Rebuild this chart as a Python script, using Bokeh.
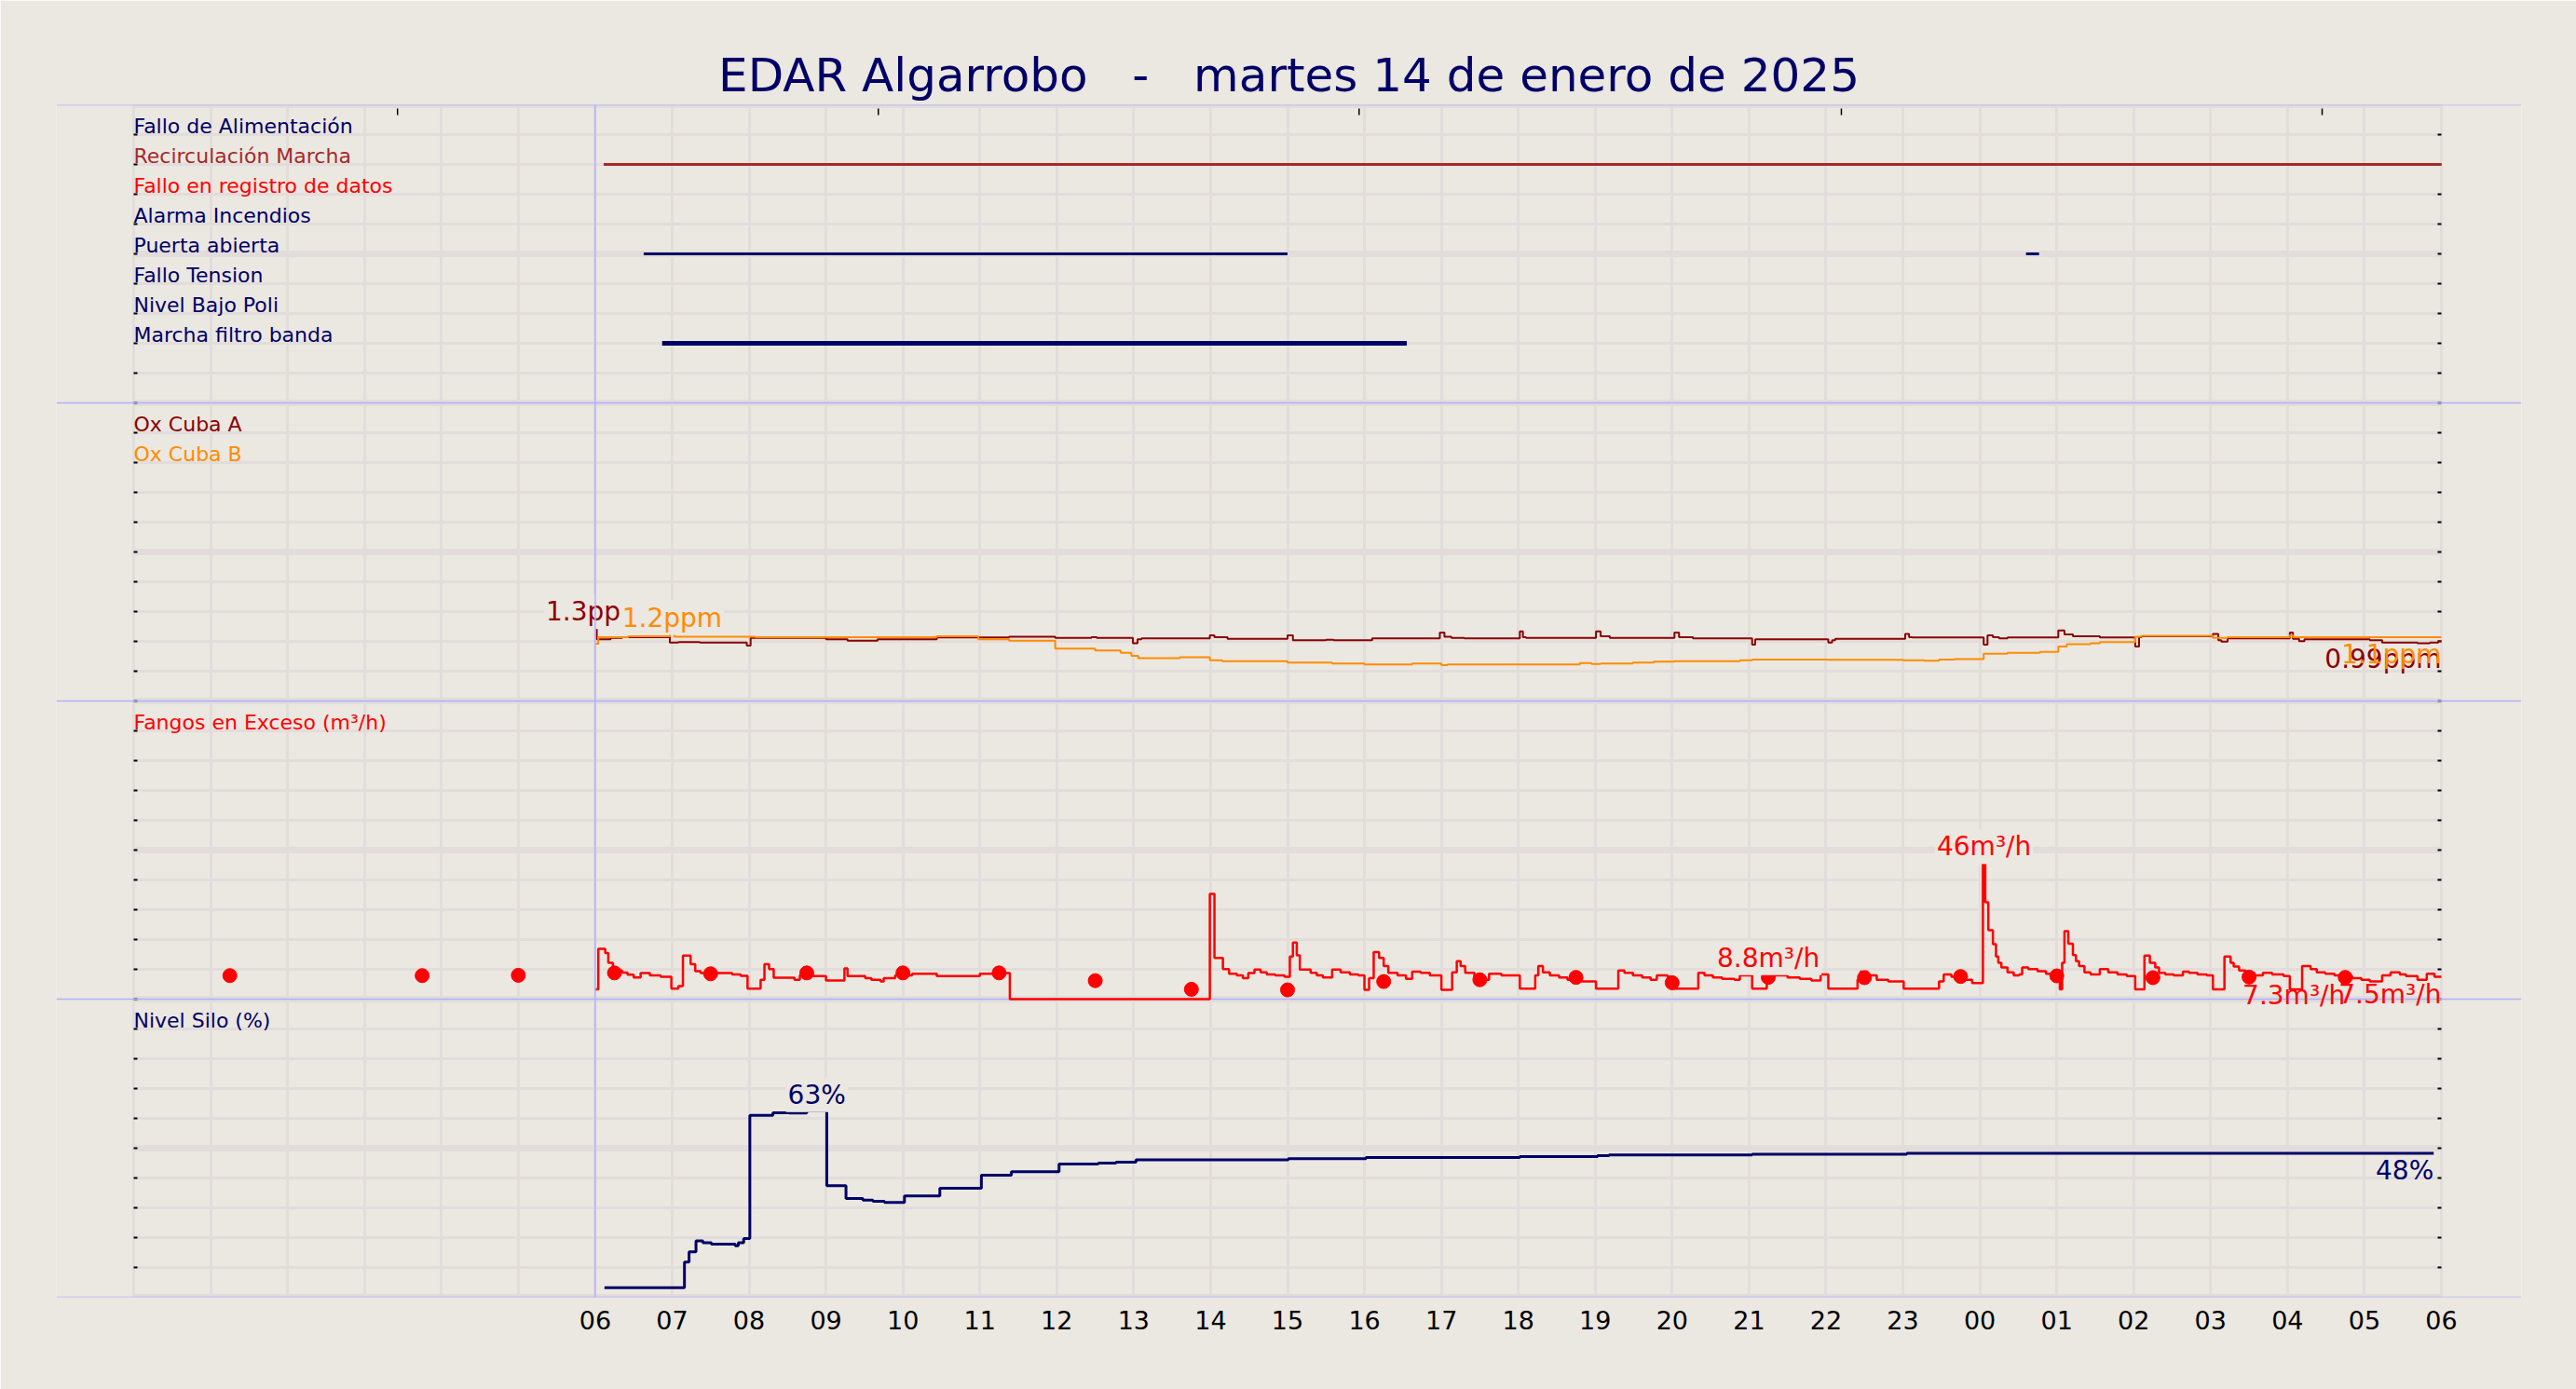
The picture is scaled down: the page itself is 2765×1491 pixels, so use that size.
import numpy as np
from bokeh.plotting import figure
from bokeh.models import Range1d, FixedTicker, Span
from bokeh.core.properties import value
from bokeh.embed import file_html
from bokeh.resources import INLINE

# ---------------- data ----------------
TITLE = "EDAR Algarrobo\u00a0\u00a0\u00a0-\u00a0\u00a0\u00a0martes 14 de enero de 2025"

# hours counted from 00:00 of 14/01 (30 = 06:00 of 15/01)
TICK_HOURS = list(range(6, 31))
TICK_LABELS = ["%02d" % (h % 24) for h in TICK_HOURS]
TOP_TICK_HOURS = [3.43, 9.68, 15.93, 22.2, 28.45]

SIGNAL_NAMES = ["Fallo de Alimentación", "Recirculación Marcha", "Fallo en registro de datos",
                "Alarma Incendios", "Puerta abierta", "Fallo Tension", "Nivel Bajo Poli",
                "Marcha filtro banda"]
# active periods of the digital signals
SIGNAL_ON_INDEX = [1, 4, 4, 7]
SIGNAL_ON_START = [6.11, 6.63, 24.60, 6.87]
SIGNAL_ON_END = [30.0, 15.0, 24.77, 16.55]

OX_A_H = [6.00, 6.02, 6.20, 6.35, 6.97, 7.08, 7.36, 7.97, 8.02, 9.00, 9.28, 9.67, 10.44, 11.38,
          11.98, 12.45, 12.52, 12.99, 13.05, 13.10, 13.99, 14.05, 14.22, 15.00, 15.07, 15.50,
          15.60, 16.10, 16.98, 17.04, 17.13, 17.30, 18.02, 18.06, 18.10, 19.01, 19.07, 19.19,
          20.03, 20.09, 20.27, 21.04, 21.08, 22.03, 22.08, 22.12, 23.03, 23.08, 23.12, 24.05,
          24.10, 24.17, 24.25, 24.36, 25.02, 25.10, 25.21, 25.56, 26.02, 26.07, 26.10, 27.03,
          27.10, 27.14, 27.22, 28.03, 28.07, 28.15, 28.22, 29.07, 29.23, 29.38, 29.69, 29.85,
          29.96, 30.00]
OX_A_V = [1.29, 1.03, 1.06, 1.08, 0.96, 0.97, 0.96, 0.89, 1.06, 1.03, 1.00, 1.03, 1.07, 1.09,
          1.06, 1.08, 1.06, 0.94, 1.03, 1.05, 1.12, 1.08, 1.04, 1.12, 1.01, 1.02,
          1.01, 1.05, 1.18, 1.09, 1.06, 1.05, 1.21, 1.08, 1.06, 1.21, 1.10, 1.06,
          1.18, 1.08, 1.05, 0.91, 1.03, 0.96, 1.01, 1.04, 1.15, 1.08, 1.07, 0.91,
          1.12, 1.08, 1.05, 1.07, 1.23, 1.14, 1.10, 1.07, 0.87, 1.08, 1.10, 1.15,
          1.01, 0.98, 1.05, 1.18, 1.04, 0.99, 1.03, 1.01, 0.96, 0.96, 0.94, 0.96,
          0.99, 0.99]

OX_B_H = [6.00, 6.04, 6.43, 6.97, 7.03, 8.08, 10.44, 10.98, 11.38, 11.98, 12.50, 12.83, 12.97,
          13.06, 13.60, 13.99, 14.15, 15.00, 15.58, 16.00, 16.62, 17.00, 17.08, 18.80, 18.95,
          19.07, 19.49, 19.76, 20.03, 20.88, 21.04, 22.03, 23.00, 23.28, 23.47, 23.67, 24.05,
          24.36, 24.78, 25.02, 25.13, 25.44, 25.56, 26.02, 26.10, 27.03, 27.22, 28.03, 28.07,
          30.00]
OX_B_V = [0.93, 1.08, 1.10, 1.16, 1.09, 1.08, 1.10, 1.03, 1.00, 0.82, 0.78, 0.73, 0.66,
          0.61, 0.63, 0.56, 0.54, 0.51, 0.49, 0.47, 0.49, 0.45, 0.47, 0.50, 0.48,
          0.49, 0.51, 0.53, 0.54, 0.56, 0.58, 0.57, 0.56, 0.55, 0.58, 0.59, 0.71,
          0.73, 0.75, 0.87, 0.92, 0.94, 0.97, 1.09, 1.11, 1.06, 1.08, 1.12, 1.08,
          1.08]

FANGOS_H = [6.00, 6.04, 6.13, 6.17, 6.23, 6.35, 6.42, 6.50, 6.59, 6.71, 6.85, 6.99, 7.08, 7.14,
            7.24, 7.30, 7.37, 7.78, 7.89, 7.98, 8.15, 8.20, 8.26, 8.32, 8.59, 8.66, 8.78, 9.00,
            9.24, 9.28, 9.51, 9.59, 9.71, 9.75, 9.90, 10.12, 10.44, 11.00, 11.29, 11.39, 13.99,
            14.05, 14.16, 14.24, 14.34, 14.42, 14.49, 14.57, 14.65, 14.73, 14.84, 14.96, 15.03,
            15.07, 15.12, 15.16, 15.30, 15.38, 15.46, 15.58, 15.69, 15.81, 15.92, 16.00, 16.06,
            16.12, 16.19, 16.25, 16.31, 16.43, 16.54, 16.62, 16.73, 16.85, 17.00, 17.14, 17.20,
            17.25, 17.31, 17.43, 17.54, 17.62, 17.78, 18.02, 18.22, 18.26, 18.32, 18.41, 18.53,
            18.64, 18.80, 19.01, 19.30, 19.38, 19.49, 19.61, 19.72, 19.80, 19.94, 20.02, 20.34,
            20.42, 20.53, 20.65, 20.81, 20.88, 21.04, 21.23, 21.50, 21.66, 21.81, 21.93, 22.03,
            22.41, 22.45, 22.54, 22.66, 22.81, 23.01, 23.47, 23.53, 23.63, 23.74, 23.90, 24.04,
            24.07, 24.11, 24.17, 24.21, 24.24, 24.28, 24.36, 24.44, 24.51, 24.55, 24.63, 24.75,
            24.86, 24.98, 25.04, 25.07, 25.10, 25.15, 25.21, 25.25, 25.29, 25.36, 25.44, 25.56,
            25.67, 25.79, 25.91, 26.02, 26.14, 26.21, 26.28, 26.33, 26.41, 26.52, 26.64, 26.72,
            26.83, 26.95, 27.03, 27.18, 27.26, 27.30, 27.37, 27.45, 27.57, 27.68, 27.80, 27.95,
            28.03, 28.19, 28.30, 28.38, 28.49, 28.61, 28.73, 28.84, 28.96, 29.07, 29.23, 29.34,
            29.46, 29.54, 29.69, 29.81, 29.91, 30.00]
FANGOS_V = [3.3, 16.9, 15.5, 12.2, 9.6, 8.9, 8.2, 7.3, 8.75, 8.0, 7.5, 3.5, 4.4, 14.6,
            11.7, 9.4, 8.75, 8.3, 7.8, 3.5, 6.5, 11.7, 10.1, 7.2, 6.5, 8.0, 7.7, 6.25,
            10.3, 7.7, 7.0, 6.5, 5.9, 7.0, 8.0, 8.5, 7.7, 8.5, 8.75, 0.0, 35.3,
            13.8, 10.1, 8.5, 8.0, 7.0, 8.75, 9.9, 9.0, 8.3, 8.0, 7.5, 14.3,
            19.0, 14.7, 9.9, 8.85, 8.0, 7.3, 9.9, 9.0, 8.3, 8.0, 3.1, 7.0,
            15.8, 13.8, 11.1, 8.85, 8.0, 6.8, 9.25, 8.85, 8.0, 3.1, 9.0, 12.7,
            11.1, 8.85, 7.5, 6.5, 8.5, 8.0, 3.5, 8.0, 11.1, 9.0, 8.0, 7.3,
            6.5, 5.9, 3.5, 9.6, 8.85, 8.0, 7.3, 6.5, 8.0, 7.5, 3.5, 8.85,
            8.0, 7.3, 6.8, 6.5, 8.0, 3.5, 8.0, 7.3, 6.8, 6.25, 8.3, 3.5,
            6.5, 9.25, 8.0, 6.5, 5.9, 3.5, 5.9, 8.3, 7.5, 6.5, 5.4, 45.8,
            32.5, 23.1, 18.4, 14.3, 12.2, 10.6, 9.0, 8.0, 8.3, 10.6, 10.1, 9.4,
            8.5, 8.0, 3.3, 12.2, 22.8, 18.6, 14.8, 12.7, 11.1, 9.0, 8.3, 10.1,
            9.0, 8.3, 7.7, 3.3, 14.6, 12.2, 10.6, 8.85, 8.3, 8.0, 9.25, 8.85,
            8.3, 8.0, 3.3, 14.3, 12.2, 10.9, 9.6, 8.85, 8.0, 8.85, 8.3, 7.7,
            3.3, 11.1, 10.1, 9.0, 8.5, 8.0, 7.7, 7.0, 6.5, 5.9, 8.0, 9.0,
            8.3, 7.7, 6.5, 8.5, 7.5, 7.5]

FANGOS_DOT_H = [1.25, 3.75, 5.0, 6.25, 7.5, 8.75, 10.0, 11.25, 12.5, 13.75, 15.0, 16.25, 17.5,
                18.75, 20.0, 21.25, 22.5, 23.75, 25.0, 26.25, 27.5, 28.75]
FANGOS_DOT_V = [7.9, 7.9, 8.0, 8.8, 8.5, 8.8, 8.8, 8.8, 6.2, 3.3, 3.1, 5.9, 6.5,
                7.3, 5.5, 7.3, 7.2, 7.6, 7.8, 7.2, 7.4, 7.3]
FANGOS_MEAN_TEXT = "8.8m³/h"
FANGOS_MEAN_AT_DOT = 15

SILO_H = [6.12, 7.16, 7.22, 7.31, 7.40, 7.51, 7.82, 7.86, 7.93, 8.01, 8.31, 8.52, 8.75, 9.01,
          9.26, 9.48, 9.61, 9.76, 10.02, 10.48, 11.02, 11.41, 12.03, 12.54, 12.77, 13.03,
          15.01, 16.02, 18.02, 19.03, 19.18, 21.04, 23.05, 29.90]
SILO_V = [3.2, 11.8, 15.2, 18.9, 18.3, 17.8, 17.3, 18.3, 19.7, 61.0, 61.9, 61.8, 62.6, 37.4,
          33.1, 32.6, 32.2, 31.8, 34.0, 36.6, 40.9, 42.1, 44.7, 45.0, 45.3, 46.1,
          46.5, 46.9, 47.2, 47.5, 47.7, 48.0, 48.3, 48.3]

# ---------------- style ----------------
BG = "#EBE7E1"
GRID = "#E2DDDB"
SEP = "#B0B0FA"
NAVY = "#000066"
BROWN = "#A52A2A"
RED = "#FF0000"
DARKRED = "#8B0000"
ORANGE = "#FF8C00"
FONT = "DejaVu Sans"
SIGNAL_COLORS = [NAVY, BROWN, RED, NAVY, NAVY, NAVY, NAVY, NAVY]
SIGNAL_WIDTHS = {1: 3, 4: 3, 7: 5}
TXT_SHIFT = -8   # px correction for text baseline

W, H = 2765, 1491
FRAME_L, FRAME_R, FRAME_T, FRAME_B = 60, 2706, 112, 1392   # page pixels
H0_PX, H30_PX = 143, 2620
PPU = (H30_PX - H0_PX) / 30.0
x_start = 0 - (H0_PX - FRAME_L) / PPU
x_end = 30 + (FRAME_R - H30_PX) / PPU

p = figure(width=W, height=H, output_backend="svg", toolbar_location=None,
           x_range=Range1d(x_start, x_end), y_range=Range1d(0, 40),
           min_border_left=FRAME_L, min_border_right=W - FRAME_R,
           min_border_top=FRAME_T, min_border_bottom=H - FRAME_B,
           y_axis_location=None, background_fill_color=BG, border_fill_color=BG,
           outline_line_color=None, title=TITLE)

p.title.align = "center"
p.title.text_font = FONT
p.title.text_font_size = "50px"
p.title.text_font_style = "normal"
p.title.text_color = NAVY
p.title.standoff = 5


def band_range(lo, hi, k):
    span = hi - lo
    return Range1d(lo - k * span, hi + (3 - k) * span)


OX_LO, OX_HI = -0.35, 6.32
p.extra_y_ranges = {"sig": band_range(0, 10, 3), "ox": band_range(OX_LO, OX_HI, 2),
                    "fangos": band_range(0, 100, 1), "silo": band_range(0, 100, 0)}

# axes / grids
p.xaxis.ticker = FixedTicker(ticks=TICK_HOURS)
p.xaxis.major_label_overrides = {h: l for h, l in zip(TICK_HOURS, TICK_LABELS)}
p.xaxis.axis_line_color = None
p.xaxis.major_tick_line_color = None
p.xaxis.minor_tick_line_color = None
p.xaxis.major_label_text_font = FONT
p.xaxis.major_label_text_font_size = "27px"
p.xaxis.major_label_text_color = "black"
p.xaxis.major_label_standoff = 8
p.xgrid.ticker = FixedTicker(ticks=list(range(0, 31)))
p.xgrid.grid_line_color = GRID
p.xgrid.grid_line_width = 3
p.ygrid.visible = False

# horizontal grid lines (limited to the hour span)
gy = list(range(0, 41))
thin = [y for y in gy if y % 5 != 0]
thick = [y for y in gy if y % 5 == 0]
p.segment(x0=0, x1=30, y0=thin, y1=thin, line_color=GRID, line_width=3)
p.segment(x0=0, x1=30, y0=thick, y1=thick, line_color=GRID, line_width=7)

# small inner ticks on left / right / top
tk = list(range(1, 40))
p.segment(x0=0, x1=4 / PPU, y0=tk, y1=tk, line_color="black", line_width=2)
p.segment(x0=30 - 4 / PPU, x1=30, y0=tk, y1=tk, line_color="black", line_width=2)
p.segment(x0=TOP_TICK_HOURS, x1=TOP_TICK_HOURS, y0=40 - 4 / 32, y1=40 - 11 / 32,
          line_color="black", line_width=1.5)

# panel separators and "now" line
seps = [0, 10, 20, 30, 40]
p.segment(x0=x_start, x1=x_end, y0=seps, y1=seps, line_color=SEP, line_width=1.5)
p.add_layout(Span(location=6, dimension="height", line_color=SEP, line_width=1.5))

txt = dict(text_font=value(FONT))

# ---- panel 1: digital signals
levels = [9 - i for i in range(len(SIGNAL_NAMES))]
p.text(x=[0] * len(SIGNAL_NAMES), y=levels, text=SIGNAL_NAMES, y_range_name="sig",
       text_color=SIGNAL_COLORS, text_font_size=value("22px"), text_baseline="alphabetic",
       y_offset=-1 + TXT_SHIFT, **txt)
for idx, s, e in zip(SIGNAL_ON_INDEX, SIGNAL_ON_START, SIGNAL_ON_END):
    p.segment(x0=[s], x1=[e], y0=[levels[idx]], y1=[levels[idx]], y_range_name="sig",
              line_color=SIGNAL_COLORS[idx], line_width=SIGNAL_WIDTHS[idx])

# ---- panel labels
p.text(x=[0, 0, 0, 0], y=[29, 28, 19, 9],
       text=["Ox Cuba A", "Ox Cuba B", "Fangos en Exceso (m³/h)", "Nivel Silo (%)"],
       text_color=[DARKRED, ORANGE, RED, NAVY], text_font_size=value("22px"),
       text_baseline="alphabetic", y_offset=-1 + TXT_SHIFT, **txt)

# ---- data series
p.step(OX_A_H, OX_A_V, mode="after", y_range_name="ox", line_color=DARKRED, line_width=2)
p.step(OX_B_H, OX_B_V, mode="after", y_range_name="ox", line_color=ORANGE, line_width=2)
p.step(FANGOS_H, FANGOS_V, mode="after", y_range_name="fangos", line_color=RED, line_width=2.5)
p.scatter(FANGOS_DOT_H, FANGOS_DOT_V, y_range_name="fangos", size=15, color=RED)
p.step(SILO_H, SILO_V, mode="after", y_range_name="silo", line_color=NAVY, line_width=3)


def fmt(v):
    return "%.2g" % v


def max_label(hs, vs, unit, color, rng):
    i = int(np.argmax(vs))
    xc = (hs[i] + hs[i + 1]) / 2 if i + 1 < len(hs) else hs[i]
    p.text(x=[xc], y=[vs[i]], text=[fmt(vs[i]) + unit], y_range_name=rng, text_color=color,
           text_font_size=value("28px"), text_align="center", text_baseline="alphabetic",
           y_offset=-9 + TXT_SHIFT, background_fill_color=BG, padding=2, **txt)


def end_label(hs, vs, unit, color, rng):
    p.text(x=[hs[-1]], y=[vs[-1]], text=[fmt(vs[-1]) + unit], y_range_name=rng,
           text_color=color, text_font_size=value("28px"), text_align="right",
           text_baseline="alphabetic", y_offset=27 + TXT_SHIFT, **txt)


max_label(OX_A_H, OX_A_V, "ppm", DARKRED, "ox")
max_label(OX_B_H, OX_B_V, "ppm", ORANGE, "ox")
end_label(OX_A_H, OX_A_V, "ppm", DARKRED, "ox")
end_label(OX_B_H, OX_B_V, "ppm", ORANGE, "ox")

max_label(FANGOS_H, FANGOS_V, "m³/h", RED, "fangos")
p.text(x=[FANGOS_DOT_H[FANGOS_MEAN_AT_DOT]], y=[FANGOS_DOT_V[FANGOS_MEAN_AT_DOT]],
       text=[FANGOS_MEAN_TEXT], y_range_name="fangos", text_color=RED,
       text_font_size=value("28px"), text_align="center", text_baseline="alphabetic",
       y_offset=-13 + TXT_SHIFT, background_fill_color=BG, padding=2, **txt)
end_label(FANGOS_H, FANGOS_V, "m³/h", RED, "fangos")
end_label(FANGOS_DOT_H, FANGOS_DOT_V, "m³/h", RED, "fangos")

max_label(SILO_H, SILO_V, "%", NAVY, "silo")
end_label(SILO_H, SILO_V, "%", NAVY, "silo")

html = file_html(p, INLINE)
html = html.replace("<body>", '<body style="background-color:%s;">' % BG, 1)
open("out.html", "w").write(html)
